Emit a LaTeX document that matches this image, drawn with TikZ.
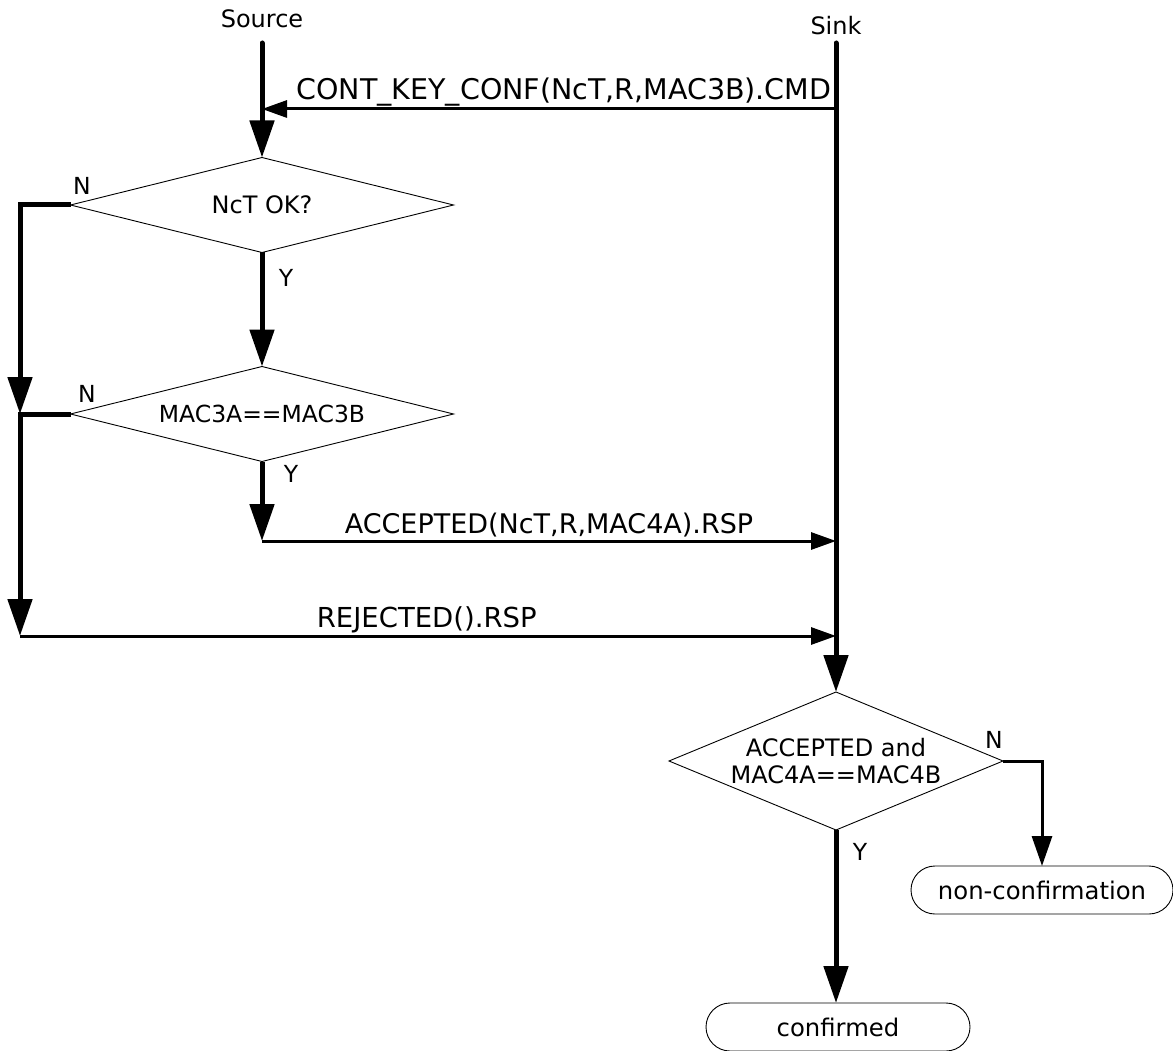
\documentclass[tikz,border=0pt]{standalone}
\usepackage{fontspec}
\setmainfont{DejaVu Sans}
\usetikzlibrary{shapes.geometric,arrows.meta}
\begin{document}
\begin{tikzpicture}[x=1pt,y=-1pt,
  flow/.style={line width=5pt,-{Triangle[length=37pt,width=24pt]}},
  msg/.style={line width=3pt,-{Triangle[length=25pt,width=17pt]}},
  side/.style={line width=3pt,-{Triangle[length=30pt,width=20pt]}},
  decision/.style={diamond,draw,line width=0.9pt,inner sep=0pt,outer sep=0pt,
    align=center,font=\fontsize{24}{27}\selectfont},
  terminal/.style={draw,line width=0.9pt,rounded corners=24pt,minimum width=262pt,
    minimum height=48pt,inner sep=0pt,outer sep=0pt,font=\fontsize{24.3}{27}\selectfont},
  role/.style={font=\fontsize{24}{27}\selectfont},
  branch/.style={font=\fontsize{23.5}{26}\selectfont},
  msglabel/.style={anchor=base}]
\useasboundingbox (0,0) rectangle (1173,1051);

% participants
\node[role] (src) at (262,19) {Source};
\node[role] (snk) at (836,26) {Sink};
\coordinate (srctop) at (262,43);
\coordinate (snktop) at (836,43);

% decisions on the source side
\node[decision,minimum width=383pt,minimum height=95pt,aspect=4] (d1) at (262,205) {NcT OK?};
\node[decision,minimum width=383pt,minimum height=95pt,aspect=4,
  font=\fontsize{23.5}{27}\selectfont] (d2) at (262,414) {MAC3A==MAC3B};

% decision on the sink side
\node[decision,minimum width=334pt,minimum height=138pt,aspect=2.42] (d3) at (836,761) {ACCEPTED and\\MAC4A==MAC4B};

% outcomes
\node[terminal] (nc) at (1042,890) {non-confirmation};
\node[terminal,minimum width=264pt] (conf) at (838,1027) {confirmed};

% message end points
\coordinate (cmdS) at (836,109);
\coordinate (cmdT) at (262,109);
\coordinate (acc) at (262,541);
\coordinate (accT) at (836,541);
\coordinate (rej) at (20,636);
\coordinate (rejT) at (836,636);
\coordinate (join) at (20,414);

% lifelines
\draw[flow,line cap=round] (srctop) -- (d1.north);
\draw[flow,line cap=round] (snktop) -- (d3.north);

% command from sink to source
\draw[msg] (cmdS) -- (cmdT)
  node[msglabel,pos=0.474,yshift=9pt,font=\fontsize{28.5}{32}\selectfont] {CONT\_KEY\_CONF(NcT,R,MAC3B).CMD};

% source decision flow
\draw[flow] (d1.south) -- (d2.north);
\draw[flow] (d1.west) -| (join);
\draw[flow] (d2.west) -| (rej);
\draw[flow] (d2.south) -- (acc);

% responses to sink
\draw[msg] (acc) -- (accT)
  node[msglabel,midway,yshift=8pt,font=\fontsize{27}{30}\selectfont] {ACCEPTED(NcT,R,MAC4A).RSP};
\draw[msg] (rej) -- (rejT)
  node[msglabel,pos=0.4985,yshift=9pt,font=\fontsize{27.5}{31}\selectfont] {REJECTED().RSP};

% sink decision flow
\draw[flow] (d3.south) -- (d3.south |- conf.north);
\draw[side] (d3.east) -| (nc.north);

% branch labels
\node[branch] (n1) at (82,186) {N};
\node[branch] (y1) at (286,278) {Y};
\node[branch] (n2) at (87,394) {N};
\node[branch] (y2) at (291,474) {Y};
\node[branch] (n3) at (994,740) {N};
\node[branch] (y3) at (860,852) {Y};
\end{tikzpicture}
\end{document}
